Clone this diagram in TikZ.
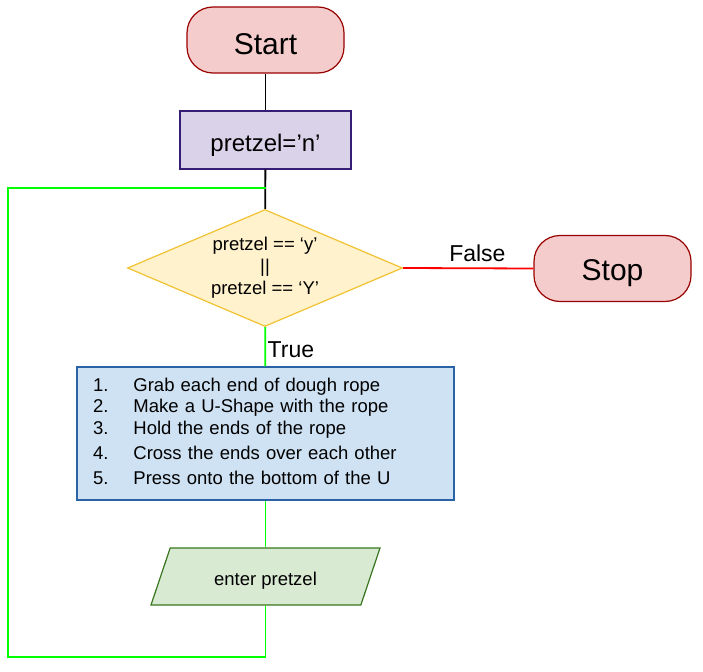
\documentclass[tikz,border=0pt]{standalone}
\usepackage{fontspec}
\setsansfont{Liberation Sans}
\usetikzlibrary{shapes.geometric}
\definecolor{termfill}{HTML}{F4CCCC}
\definecolor{termline}{HTML}{990000}
\definecolor{initfill}{HTML}{D9D2E9}
\definecolor{initline}{HTML}{351C75}
\definecolor{condfill}{HTML}{FFF2CC}
\definecolor{condline}{HTML}{F1C232}
\definecolor{stepfill}{HTML}{CFE2F3}
\definecolor{stepline}{HTML}{2A62A6}
\definecolor{iofill}{HTML}{D9EAD3}
\definecolor{ioline}{HTML}{38761D}
\definecolor{loopgreen}{HTML}{00FF00}
\tikzset{
  terminal/.style={draw=termline, fill=termfill, line width=1.2pt, rounded corners=26pt,
    minimum width=157pt, minimum height=66pt, text depth=0pt,
    font=\sffamily\fontsize{30}{36}\selectfont},
  assign/.style={draw=initline, fill=initfill, line width=1.2pt, minimum width=171pt,
    minimum height=58pt, text height=29.5pt, text depth=5.5pt,
    font=\sffamily\fontsize{24}{28}\selectfont},
  decision/.style={diamond, shape aspect=2.35, draw=condline, fill=condfill, line width=1.2pt,
    inner sep=0pt, minimum width=275pt, minimum height=117pt, align=center,
    font=\sffamily\fontsize{18.5}{22}\selectfont},
  process/.style={draw=stepline, fill=stepfill, line width=1.2pt, minimum width=377pt,
    minimum height=133pt, inner xsep=16pt, text width=345pt, align=left,
    font=\sffamily\fontsize{18.5}{21.5}\selectfont},
  io/.style={trapezium, trapezium left angle=51, trapezium right angle=129, trapezium stretches body,
    draw=ioline, fill=iofill, line width=1.2pt, minimum width=229pt, minimum height=57pt,
    text height=17pt, text depth=0pt, font=\sffamily\fontsize{18.5}{22}\selectfont},
  link/.style={line width=1.8pt},
  tag/.style={text=black, font=\sffamily\fontsize{23}{27}\selectfont, inner sep=1.5pt}
}
\begin{document}
\begin{tikzpicture}[x=1pt, y=-1pt, font=\sffamily]
  \useasboundingbox (0,0) rectangle (703,671);
  \node[terminal, text height=30pt] (start) at (265.5,40) {Start};
  \node[assign] (init) at (265.5,140) {pretzel='n'};
  \node[decision] (cond) at (265,268) {pretzel == `y'\\||\\pretzel == `Y'};
  \node[terminal, text height=23pt] (stop) at (612.5,268.5) {Stop};
  \node[process] (steps) at (265.5,433.5) {%
    \begin{tabular}{@{}l@{\hspace{25pt}}l@{}}
      1. & Grab each end of dough rope\\
      2. & Make a U-Shape with the rope\\
      3. & Hold the ends of the rope\\[4pt]
      4. & Cross the ends over each other\\[3pt]
      5. & Press onto the bottom of the U
    \end{tabular}};
  \node[io] (input) at (265.5,576.5) {enter pretzel};
  \coordinate (loopjoin) at (265.5,188);
  \coordinate (loopcorner) at (8,657);
  \draw[link] (start) -- (init);
  \draw[link] (init) -- (cond);
  \draw[link, red] (cond.east) -- node[tag, above, pos=0.57, yshift=4pt] {False} (stop.west);
  \draw[link, loopgreen] (cond) -- node[tag, right, pos=0.58] {True} (steps);
  \draw[link, loopgreen] (steps) -- (input);
  \draw[link, loopgreen] (input.south) |- (loopcorner) |- (loopjoin);
\end{tikzpicture}
\end{document}
